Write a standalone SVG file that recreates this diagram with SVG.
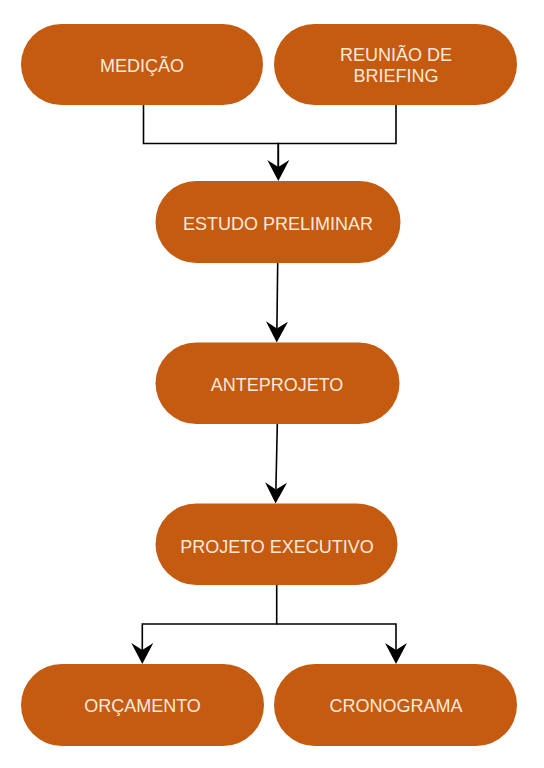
<svg xmlns="http://www.w3.org/2000/svg" width="544" height="768" viewBox="0 0 544 768">
  <style>
    .box { fill: #C55A11; stroke: none; }
    .lbl { font-family: "Liberation Sans", Arial, sans-serif; font-size: 18px; fill: #FBE9DA; text-anchor: middle; }
    .edge { fill: none; stroke: #000000; stroke-width: 1.6; }
  </style>
  <defs>
    <marker id="arrow" markerUnits="userSpaceOnUse" markerWidth="26" markerHeight="26" viewBox="-23 -13 26 26" refX="-14" refY="0" orient="auto">
      <path d="M0,0 L-21,-11 L-14,0 L-21,11 Z" fill="#000000"/>
    </marker>
  </defs>
  <rect width="544" height="768" fill="#FFFFFF"/>

  <g id="connectors">
    <path class="edge" d="M143.5,105 V143.5 H278.3 V167" marker-end="url(#arrow)"/>
    <path class="edge" d="M396,105 V143.5 H278.3 V167"/>
    <path class="edge" d="M277.7,263 L276.9,328.5" marker-end="url(#arrow)"/>
    <path class="edge" d="M277.3,424 L275.9,489.5" marker-end="url(#arrow)"/>
    <path class="edge" d="M276.7,585 V624 H142.3 V650" marker-end="url(#arrow)"/>
    <path class="edge" d="M276.7,624 H396 V650" marker-end="url(#arrow)"/>
  </g>

  <g id="medicao">
    <rect class="box" x="21" y="24" width="242" height="81" rx="40.5"/>
    <text class="lbl" x="142" y="72">MEDIÇÃO</text>
  </g>
  <g id="reuniao">
    <rect class="box" x="274" y="24" width="243" height="81" rx="40.5"/>
    <text class="lbl" x="396" y="61">REUNIÃO DE</text>
    <text class="lbl" x="396" y="81.5">BRIEFING</text>
  </g>
  <g id="estudo">
    <rect class="box" x="155.5" y="181" width="245" height="82" rx="41"/>
    <text class="lbl" x="278" y="230">ESTUDO PRELIMINAR</text>
  </g>
  <g id="anteprojeto">
    <rect class="box" x="155.5" y="342.5" width="244" height="81.5" rx="40.75"/>
    <text class="lbl" x="277" y="391">ANTEPROJETO</text>
  </g>
  <g id="executivo">
    <rect class="box" x="155.5" y="503.5" width="242" height="81.5" rx="40.75"/>
    <text class="lbl" x="277" y="552.5">PROJETO EXECUTIVO</text>
  </g>
  <g id="orcamento">
    <rect class="box" x="21" y="664" width="243" height="82" rx="41"/>
    <text class="lbl" x="142.5" y="712">ORÇAMENTO</text>
  </g>
  <g id="cronograma">
    <rect class="box" x="274" y="664" width="243" height="82" rx="41"/>
    <text class="lbl" x="396" y="712">CRONOGRAMA</text>
  </g>
</svg>
